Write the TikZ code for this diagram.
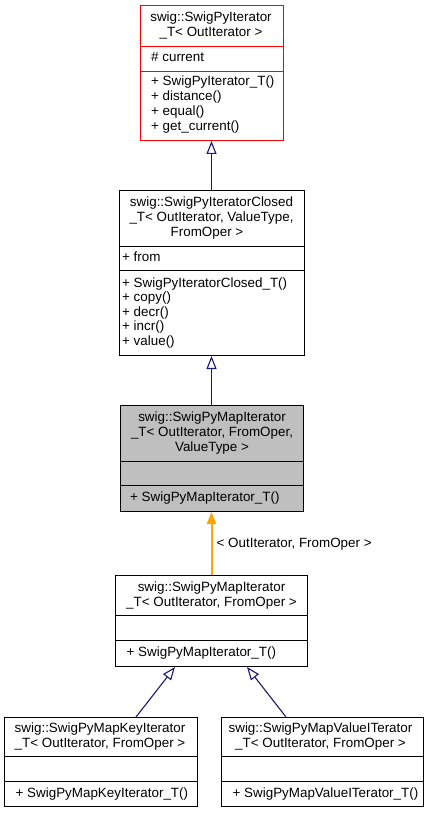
\documentclass[tikz,border=0pt]{standalone}
\usepackage{fontspec}
\setmainfont{Liberation Sans}
\usetikzlibrary{arrows.meta,calc}
\definecolor{edgeblue}{HTML}{191970}
\definecolor{tmplorange}{HTML}{FFA500}
\definecolor{boxgray}{HTML}{BFBFBF}
\definecolor{boxred}{HTML}{FF0000}
\begin{document}
\begin{tikzpicture}[x=1pt,y=-1pt,
  fnt/.style={font=\fontsize{13.4}{15}\selectfont},
  txt/.style={fnt, inner sep=0pt, anchor=base west},
  ttl/.style={fnt, inner sep=0pt, anchor=base},
  umlbox/.style={draw, line width=1pt, fill=white, inner sep=0pt},
  sepline/.style={line width=1pt},
  inh/.style={draw=edgeblue, line width=1.1pt, -{Triangle[open,length=13pt,width=10pt]}},
  tmpl/.style={draw=tmplorange, line width=2pt, -{Triangle[length=12pt,width=9pt,fill=tmplorange]}}]
\useasboundingbox (0,0) rectangle (429,813);

% Box 1
\node[umlbox, draw=boxred, minimum width=143pt, minimum height=135pt] (b1) at (212,73) {};
\draw[sepline, draw=boxred] (b1.west |- 0,46.5) -- (b1.east |- 0,46.5);
\draw[sepline, draw=boxred] (b1.west |- 0,71.5) -- (b1.east |- 0,71.5);
\node[ttl] (t1a) at (211,21.5) {swig::SwigPyIterator};
\node[ttl] (t1b) at (211,36.5) {\_T< OutIterator >};
\node[txt] (m1a) at (151,61.5) {\# current};
\node[txt] (m1b) at (151,86) {+ SwigPyIterator\_T()};
\node[txt] (m1c) at (151,101) {+ distance()};
\node[txt] (m1d) at (151,116) {+ equal()};
\node[txt] (m1e) at (151,131) {+ get\_current()};

% Box 2
\node[umlbox, minimum width=185pt, minimum height=165pt] (b2) at (212,273) {};
\draw[sepline] (b2.west |- 0,246.5) -- (b2.east |- 0,246.5);
\draw[sepline] (b2.west |- 0,270.5) -- (b2.east |- 0,270.5);
\node[ttl] (t2a) at (211.5,206.7) {swig::SwigPyIteratorClosed};
\node[ttl] (t2b) at (211.5,221.7) {\_T< OutIterator, ValueType,};
\node[ttl] (t2c) at (207,236.7) {FromOper >};
\node[txt] (m2a) at (122,261.5) {+ from};
\node[txt] (m2b) at (122,287) {+ SwigPyIteratorClosed\_T()};
\node[txt] (m2c) at (122,301.5) {+ copy()};
\node[txt] (m2d) at (122,316) {+ decr()};
\node[txt] (m2e) at (122,330.5) {+ incr()};
\node[txt] (m2f) at (122,345) {+ value()};

% Box 3
\node[umlbox, fill=boxgray, minimum width=183pt, minimum height=106pt] (b3) at (212,458.5) {};
\draw[sepline] (b3.west |- 0,461.5) -- (b3.east |- 0,461.5);
\draw[sepline] (b3.west |- 0,485.5) -- (b3.east |- 0,485.5);
\node[ttl] (t3a) at (212,421.7) {swig::SwigPyMapIterator};
\node[ttl] (t3b) at (212,436.7) {\_T< OutIterator, FromOper,};
\node[ttl] (t3c) at (212,451.2) {ValueType >};
\node[txt] (m3a) at (130,501.5) {+ SwigPyMapIterator\_T()};

% Box 4
\node[umlbox, minimum width=192pt, minimum height=91pt] (b4) at (211.5,621) {};
\draw[sepline] (b4.west |- 0,615.5) -- (b4.east |- 0,615.5);
\draw[sepline] (b4.west |- 0,640.5) -- (b4.east |- 0,640.5);
\node[ttl] (t4a) at (211.5,591.5) {swig::SwigPyMapIterator};
\node[ttl] (t4b) at (211.5,606.5) {\_T< OutIterator, FromOper >};
\node[txt] (m4a) at (126.5,656.5) {+ SwigPyMapIterator\_T()};

% Box 5
\node[umlbox, minimum width=193pt, minimum height=89pt] (b5) at (101,762) {};
\draw[sepline] (b5.west |- 0,756.5) -- (b5.east |- 0,756.5);
\draw[sepline] (b5.west |- 0,781.5) -- (b5.east |- 0,781.5);
\node[ttl] (t5a) at (100,732.5) {swig::SwigPyMapKeyIterator};
\node[ttl] (t5b) at (100,747.5) {\_T< OutIterator, FromOper >};
\node[txt] (m5a) at (15.5,797.5) {+ SwigPyMapKeyIterator\_T()};

% Box 6
\node[umlbox, minimum width=202pt, minimum height=89pt] (b6) at (322.5,762) {};
\draw[sepline] (b6.west |- 0,756.5) -- (b6.east |- 0,756.5);
\draw[sepline] (b6.west |- 0,781.5) -- (b6.east |- 0,781.5);
\node[ttl] (t6a) at (320.5,732.5) {swig::SwigPyMapValueITerator};
\node[ttl] (t6b) at (320.5,747.5) {\_T< OutIterator, FromOper >};
\node[txt] (m6a) at (232.5,797.5) {+ SwigPyMapValueITerator\_T()};

% Connectors
\draw[inh] ([xshift=-0.5pt]b2.north) -- ([xshift=-0.5pt]b2.north |- b1.south);
\draw[inh] ([xshift=-0.5pt]b3.north) -- ([xshift=-0.5pt]b3.north |- b2.south);
\draw[tmpl] (b4.north) -- (b4.north |- b3.south);
\node[txt] (lbl) at (216.5,547.5) {< OutIterator, FromOper >};
\coordinate (k5) at ([xshift=132pt]b5.north west);
\coordinate (k4a) at ([xshift=60pt]b4.south west);
\coordinate (k6) at ([xshift=65pt]b6.north west);
\coordinate (k4b) at ([xshift=132pt]b4.south west);
\draw[inh] (k5) -- (k4a);
\draw[inh] (k6) -- (k4b);
\end{tikzpicture}
\end{document}
